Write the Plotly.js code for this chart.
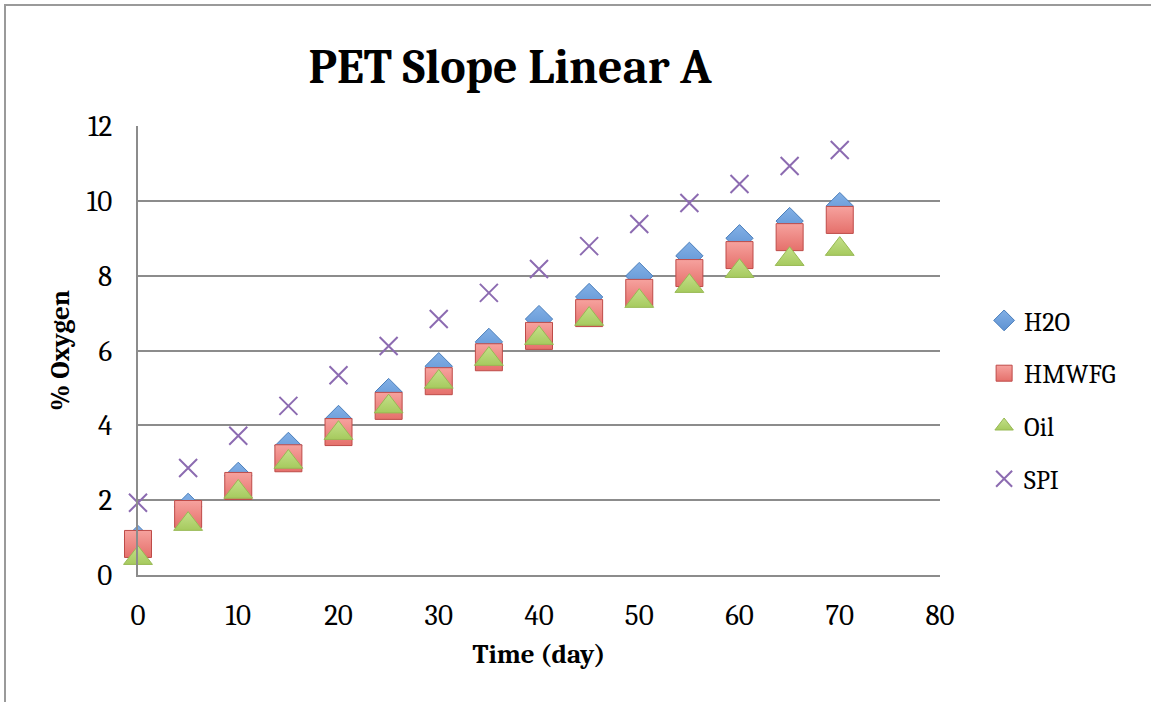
<!DOCTYPE html>
<html>
<head>
<meta charset="utf-8">
<script src="https://cdn.plot.ly/plotly-3.0.1.min.js"></script>
<style>
html,body{margin:0;padding:0;background:#fff;}
#frame{position:absolute;left:4px;top:4px;width:1147px;height:698px;border-top:2px solid #9a9a9a;border-left:2px solid #9a9a9a;box-sizing:border-box;}
#chart{position:absolute;left:0;top:0;width:1151px;height:702px;}
</style>
</head>
<body>
<div id="chart"></div>
<div id="frame"></div>
<script>
const days = [0, 5, 10, 15, 20, 25, 30, 35, 40, 45, 50, 55, 60, 65, 70];
const h2o   = [0.96, 1.82, 2.65, 3.45, 4.17, 4.89, 5.58, 6.23, 6.84, 7.43, 7.99, 8.53, 9.00, 9.46, 9.86];
const hmwfg = [0.83, 1.63, 2.38, 3.12, 3.82, 4.52, 5.18, 5.82, 6.39, 7.00, 7.54, 8.07, 8.55, 9.03, 9.49];
const oil   = [0.45, 1.36, 2.22, 3.02, 3.79, 4.50, 5.16, 5.77, 6.33, 6.84, 7.32, 7.72, 8.12, 8.44, 8.71];
const spi   = [1.93, 2.86, 3.72, 4.52, 5.34, 6.12, 6.84, 7.54, 8.18, 8.79, 9.38, 9.94, 10.45, 10.93, 11.36];
const seriesNames = ['H2O', 'HMWFG', 'Oil', 'SPI'];
const xTicks = [0, 10, 20, 30, 40, 50, 60, 70, 80];
const yTicks = [0, 2, 4, 6, 8, 10, 12];

const FONT = 'Cambria, Caladea, "DejaVu Serif", serif';

const traces = [
  {x: days, y: h2o, name: seriesNames[0], mode: 'markers', type: 'scatter', legendgroup: 'a', cliponaxis: false,
   marker: {symbol: 'diamond', size: 21, color: '#82B0E6', gradient: {type: 'vertical', color: '#5E92D2'}, line: {color: '#4A7EBB', width: 1}}},
  {x: days, y: hmwfg, name: seriesNames[1], mode: 'markers', type: 'scatter', legendgroup: 'b', cliponaxis: false,
   marker: {symbol: 'square', size: 27, color: '#F6A29E', gradient: {type: 'vertical', color: '#E5706B'}, line: {color: '#BE4B48', width: 1}}},
  {x: days, y: oil, name: seriesNames[2], mode: 'markers', type: 'scatter', legendgroup: 'c', cliponaxis: false,
   marker: {symbol: 'triangle-up', size: 25, color: '#C4E08A', gradient: {type: 'vertical', color: '#A6CA5E'}, line: {color: '#98B954', width: 1}}},
  {x: days, y: spi, name: seriesNames[3], mode: 'markers', type: 'scatter', legendgroup: 'd', cliponaxis: false,
   marker: {symbol: 'x-thin-open', size: 18, color: '#8C6BB1', line: {color: '#8C6BB1', width: 2}}}
];

const layout = {
  width: 1151, height: 702,
  margin: {l: 138, r: 211, t: 126, b: 127, pad: 0},
  paper_bgcolor: '#ffffff', plot_bgcolor: '#ffffff',
  font: {family: FONT, size: 27, color: '#000'},
  title: {text: '<b>PET Slope Linear A</b>', font: {family: FONT, size: 48, color: '#000'},
          x: 510 / 1151, xanchor: 'center', y: 1 - 66 / 702, yanchor: 'middle'},
  xaxis: {
    range: [0, 80], tickvals: xTicks, ticktext: xTicks.map(String),
    showgrid: false, zeroline: false, showline: true, linecolor: '#8c8c8c', linewidth: 2,
    ticks: 'outside', ticklen: 13, tickcolor: 'rgba(0,0,0,0)',
    tickfont: {family: FONT, size: 29, color: '#000'},
    title: {text: '<b>Time (day)</b>', font: {family: FONT, size: 27, color: '#000'}, standoff: 13}
  },
  yaxis: {
    range: [0, 12], tickvals: yTicks, ticktext: yTicks.map(String),
    showgrid: true, gridcolor: '#8c8c8c', gridwidth: 2, zeroline: false,
    showline: true, linecolor: '#8c8c8c', linewidth: 2,
    ticks: 'outside', ticklen: 18, tickcolor: 'rgba(0,0,0,0)',
    tickfont: {family: FONT, size: 29, color: '#000'},
    title: {text: '<b>% Oxygen</b>', font: {family: FONT, size: 27, color: '#000'}, standoff: 9}
  },
  showlegend: true,
  legend: {x: 1.055, xanchor: 'left', y: (575 - 400) / 449, yanchor: 'middle', tracegroupgap: 16,
           font: {family: FONT, size: 26, color: '#000'}, bgcolor: 'rgba(0,0,0,0)', itemwidth: 30}
};

Plotly.newPlot('chart', traces, layout, {displayModeBar: false, staticPlot: true});
</script>
</body>
</html>
